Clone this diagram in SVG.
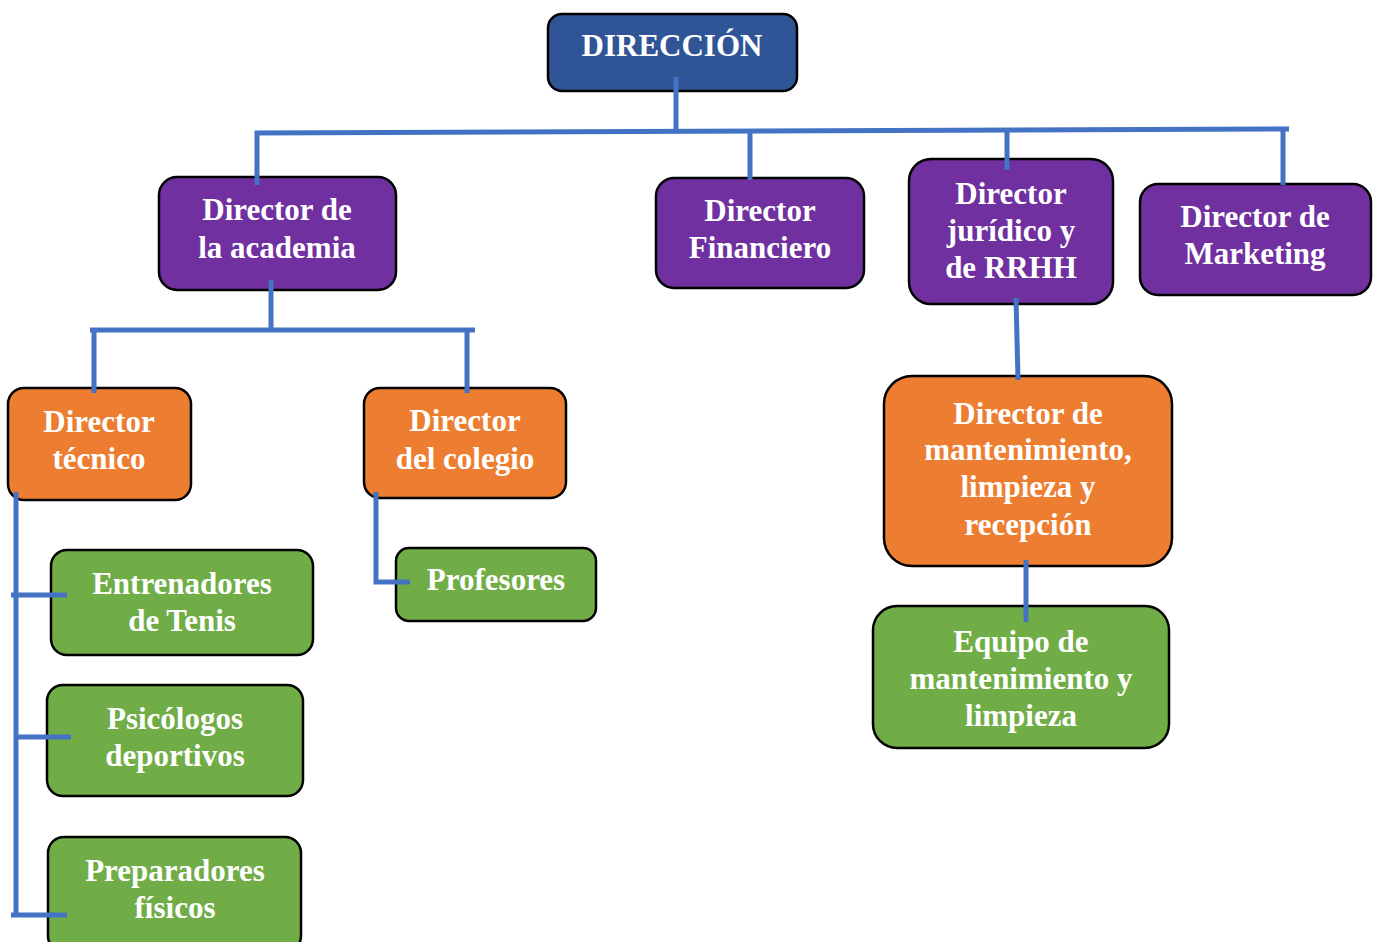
<svg xmlns="http://www.w3.org/2000/svg" width="1378" height="942" viewBox="0 0 1378 942">
<style>
.box{stroke:#000;stroke-width:2.5}
.blue{fill:#2F5597}
.purple{fill:#7030A0}
.orange{fill:#ED7D31}
.green{fill:#70AD47}
text{font-family:"Liberation Serif","Times New Roman",serif;font-weight:bold;font-size:31px;fill:#fff;text-anchor:middle}
.c{stroke:#4472C4;stroke-width:5;fill:none}
</style>
<rect width="1378" height="942" fill="#fff"/>
<g id="n-direccion"><rect class="box blue" x="548" y="14" width="249" height="77" rx="14"/><text x="672" y="56">DIRECCIÓN</text></g>
<g id="n-academia"><rect class="box purple" x="159" y="177" width="237" height="113" rx="18"/><text x="277" y="220">Director de</text><text x="277" y="258">la academia</text></g>
<g id="n-financiero"><rect class="box purple" x="656" y="178" width="208" height="110" rx="18"/><text x="760" y="221">Director</text><text x="760" y="258">Financiero</text></g>
<g id="n-juridico"><rect class="box purple" x="909" y="159" width="204" height="145" rx="22"/><text x="1011" y="204">Director</text><text x="1011" y="241">jurídico y</text><text x="1011" y="278">de RRHH</text></g>
<g id="n-marketing"><rect class="box purple" x="1140" y="184" width="231" height="111" rx="18"/><text x="1255" y="227">Director de</text><text x="1255" y="264">Marketing</text></g>
<g id="n-tecnico"><rect class="box orange" x="8" y="388" width="183" height="112" rx="16"/><text x="99" y="432">Director</text><text x="99" y="469">técnico</text></g>
<g id="n-colegio"><rect class="box orange" x="364" y="388" width="202" height="110" rx="16"/><text x="465" y="431">Director</text><text x="465" y="469">del colegio</text></g>
<g id="n-mantenimiento"><rect class="box orange" x="884" y="376" width="288" height="190" rx="28"/><text x="1028" y="424">Director de</text><text x="1028" y="460">mantenimiento,</text><text x="1028" y="497">limpieza y</text><text x="1028" y="535">recepción</text></g>
<g id="n-entrenadores"><rect class="box green" x="51" y="550" width="262" height="105" rx="16"/><text x="182" y="594">Entrenadores</text><text x="182" y="631">de Tenis</text></g>
<g id="n-psicologos"><rect class="box green" x="47" y="685" width="256" height="111" rx="16"/><text x="175" y="729">Psicólogos</text><text x="175" y="766">deportivos</text></g>
<g id="n-preparadores"><rect class="box green" x="48" y="837" width="253" height="115" rx="16"/><text x="175" y="881">Preparadores</text><text x="175" y="918">físicos</text></g>
<g id="n-profesores"><rect class="box green" x="396" y="548" width="200" height="73" rx="13"/><text x="496" y="590">Profesores</text></g>
<g id="n-equipo"><rect class="box green" x="873" y="606" width="296" height="142" rx="24"/><text x="1021" y="652">Equipo de</text><text x="1021" y="689">mantenimiento y</text><text x="1021" y="726">limpieza</text></g>
<g id="connectors">
<path class="c" d="M676 77V130"/>
<path class="c" d="M255 133L1289 129"/>
<path class="c" d="M257 131V185M750 131V180M1007 131V170M1283 130V185"/>
<path class="c" d="M271 280V330M90 330H475M94 330V393M467 330V393"/>
<path class="c" d="M16 492V915M11 595H67M17 737H71M11 915H67"/>
<path class="c" d="M376 492V582H410"/>
<path class="c" d="M1016 298L1018 380"/>
<path class="c" d="M1026 560V622"/>
</g>
</svg>
